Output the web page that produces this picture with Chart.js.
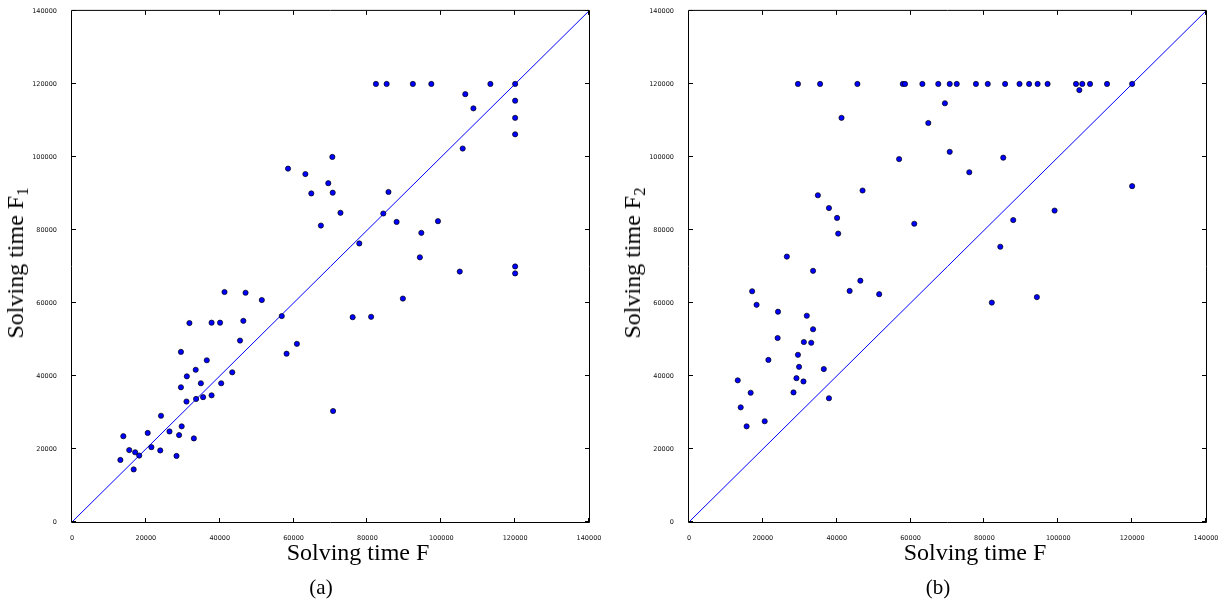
<!DOCTYPE html>
<html>
<head>
<meta charset="utf-8">
<script src="https://cdn.jsdelivr.net/npm/chart.js@4.4.0/dist/chart.umd.min.js"></script>
<style>
  body { margin: 0; background: #fff; }
  #wrap { position: relative; width: 1228px; height: 607px; overflow: hidden; }
  .panel { position: absolute; top: 0; width: 614px; height: 570px; }
  .lbl { position: absolute; font-family: "Liberation Serif", serif; font-size: 24px; line-height: 24px; white-space: nowrap; color: #000; }
  .lbl sub { font-size: 0.7em; line-height: 0; vertical-align: -0.3em; }
  .ylbl { transform: translate(-50%, -50%) rotate(-90deg); }
  .xlbl { transform: translateX(-50%); }
  .cap { position: absolute; font-family: "Liberation Serif", serif; font-size: 21px; line-height: 21px; transform: translateX(-50%); color: #000; }
</style>
</head>
<body>
<div id="wrap">
  <div class="panel" style="left:0"><canvas id="chartA"></canvas></div>
  <div class="panel" style="left:614px"><canvas id="chartB"></canvas></div>

  <div class="lbl ylbl" style="left:15px; top:263px">Solving time F<sub>1</sub></div>
  <div class="lbl xlbl" style="left:358px; top:540px">Solving time F</div>
  <div class="cap" style="left:321px; top:577px">(a)</div>

  <div class="lbl ylbl" style="left:632px; top:263px">Solving time F<sub>2</sub></div>
  <div class="lbl xlbl" style="left:975px; top:540px">Solving time F</div>
  <div class="cap" style="left:938px; top:577px">(b)</div>
</div>
<script>
const tickValues = [0, 20000, 40000, 60000, 80000, 100000, 120000, 140000];
const diagonal = [0, 140000];

// (a) solving time F vs F1
const timeF_a = [13100, 13900, 15500, 16700, 17100, 18200, 20500, 21500, 23900, 24100,
  26400, 28300, 29000, 29700, 29500, 29500, 31000, 31100, 31800, 33000,
  33600, 33500, 34900, 35500, 36500, 37800, 37800, 40100, 40400, 41300,
  43400, 45500, 46400, 47000, 51400, 56800, 58100, 60900,
  58500, 63200, 64800, 67400, 69400, 70500, 70600, 72700,
  82300, 85200, 92300, 97300, 113300, 120000,
  106500, 108700, 120000, 120000, 120000, 105800,
  85700, 84300, 87900, 99100, 94600, 77800, 94200, 105000, 120000, 120000,
  70700, 76000, 81000, 89600];
const timeF1 = [17000, 23500, 19700, 14400, 19100, 18200, 24400, 20500, 19600, 29100,
  24800, 18100, 23800, 26200, 46600, 36900, 33000, 39900, 54500, 22900,
  33700, 41700, 38000, 34200, 44300, 54600, 34700, 54600, 38000, 63000,
  41000, 49700, 55100, 62800, 60800, 56400, 46100, 48800,
  96800, 95300, 90000, 81200, 92800, 100000, 90200, 84700,
  120000, 120000, 120000, 120000, 120000, 120000,
  117200, 113300, 115400, 110700, 106200, 102300,
  90400, 84500, 82200, 82400, 79200, 76300, 72500, 68600, 70000, 68100,
  30400, 56100, 56200, 61200];

// (b) solving time F vs F2
const timeF_b = [13200, 14000, 15600, 16700, 17100, 18300, 20500, 21500, 24000, 24100,
  28300, 29100, 29500, 29800, 31000, 31100, 31900, 33100, 33600, 33600,
  36500, 37900, 43500, 46400, 51500,
  26500, 34900, 37900, 40100, 40400, 41300, 47000,
  29500, 35500, 45600, 57900, 58500, 63200, 67500, 70600,
  56900, 61000, 64800, 69300, 70600,
  72500, 77700, 80900, 85600, 89500, 92100, 94400, 97100, 104800, 106500, 108600, 113200, 120000,
  105700, 85100, 75900, 120000, 99000, 87800, 84300, 82000, 94200];
const timeF2 = [38800, 31400, 26200, 35400, 63200, 59500, 27600, 44400, 50400, 57600,
  35500, 39400, 45800, 42500, 38500, 49300, 56500, 49100, 68800, 52800,
  41900, 33900, 63300, 66100, 62400,
  72700, 89500, 86000, 83300, 79000, 110700, 90800,
  120000, 120000, 120000, 120000, 120000, 120000, 120000, 120000,
  99400, 81700, 109300, 114700, 101400,
  120000, 120000, 120000, 120000, 120000, 120000, 120000, 120000, 120000, 120000, 120000, 120000, 120000,
  118300, 99800, 95800, 92000, 85300, 82700, 75400, 60100, 61600];

// frame on all four sides with inward ticks (matplotlib classic look)
const framePlugin = {
  id: 'frame',
  afterDraw(chart) {
    const { ctx, chartArea: a, scales: { x, y } } = chart;
    const len = 4;
    ctx.save();
    ctx.strokeStyle = '#000';
    ctx.lineWidth = 1;
    ctx.beginPath();
    ctx.rect(a.left - 0.5, a.top - 0.5, a.width + 1, a.height + 1);
    x.ticks.forEach(t => {
      const px = Math.round(x.getPixelForValue(t.value)) - 0.5;
      ctx.moveTo(px, a.bottom); ctx.lineTo(px, a.bottom - len);
      ctx.moveTo(px, a.top); ctx.lineTo(px, a.top + len);
    });
    y.ticks.forEach(t => {
      const py = Math.round(y.getPixelForValue(t.value)) - 0.5;
      ctx.moveTo(a.left, py); ctx.lineTo(a.left + len, py);
      ctx.moveTo(a.right, py); ctx.lineTo(a.right - len, py);
    });
    ctx.stroke();
    ctx.restore();
  }
};

function makeChart(id, xs, ys, yAxisWidth, padRight) {
  const tickFont = { family: 'DejaVu Sans', size: 6.5 };
  const axis = (w, h) => ({
    type: 'linear',
    min: 0,
    max: 140000,
    afterBuildTicks: s => { s.ticks = tickValues.map(v => ({ value: v })); },
    grid: { display: false },
    border: { display: false },
    ticks: {
      autoSkip: false,
      maxRotation: 0,
      color: '#111',
      font: tickFont,
      padding: w ? 7 : 4,
      callback: v => String(v)
    },
    afterFit: s => { if (w) s.width = w; else s.height = h; }
  });

  return new Chart(document.getElementById(id), {
    type: 'scatter',
    data: {
      datasets: [
        {
          label: 'runs',
          order: 0,
          data: xs.map((v, i) => ({ x: v, y: ys[i] })),
          pointRadius: 2.6,
          pointBackgroundColor: '#0000ff',
          pointBorderColor: '#000',
          pointBorderWidth: 0.7
        },
        {
          label: 'y = x',
          order: 1,
          type: 'line',
          data: diagonal.map(v => ({ x: v, y: v })),
          borderColor: 'rgb(0, 0, 255)',
          backgroundColor: 'rgb(0, 0, 255)',
          borderWidth: 1,
          pointRadius: 0,
          fill: false
        }
      ]
    },
    options: {
      responsive: true,
      maintainAspectRatio: false,
      animation: false,
      layout: { padding: { top: 5, right: padRight, left: 0, bottom: 0 } },
      plugins: { legend: { display: false }, tooltip: { enabled: false } },
      scales: {
        x: axis(0, 48),
        y: axis(yAxisWidth, 0)
      }
    },
    plugins: [framePlugin]
  });
}

makeChart('chartA', timeF_a, timeF1, 72, 25);
makeChart('chartB', timeF_b, timeF2, 75, 22);
</script>
</body>
</html>
